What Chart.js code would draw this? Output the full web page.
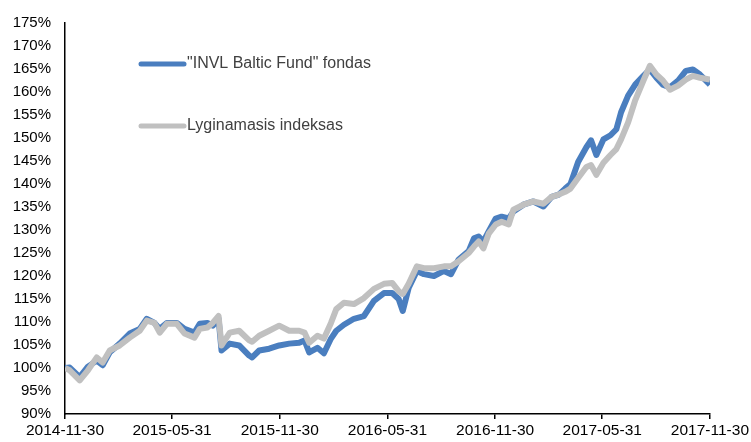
<!DOCTYPE html>
<html>
<head>
<meta charset="utf-8">
<script src="https://cdn.jsdelivr.net/npm/chart.js@4"></script>
<style>
  body { margin: 0; background: #fff; }
  canvas { display: block; }
</style>
</head>
<body>
<canvas id="fundChart" width="751" height="442"></canvas>
<script>
// Dienas nuo 2014-11-30
var days = [0, 8, 25, 39, 54, 64, 76, 93, 110, 127, 139, 152, 161, 173, 190, 203, 220, 229, 242, 251,
    261, 266, 280, 296, 313, 318, 330, 347, 364, 381, 398, 407, 415, 429, 440, 452, 461, 474, 491, 508,
    525, 542, 556, 567, 574, 584, 598, 610, 627, 644, 656, 669, 686, 695, 703, 711, 720, 732, 742, 754,
    762, 779, 796, 813, 827, 839, 850, 859, 872, 886, 894, 903, 915, 927, 937, 945, 957, 969, 983, 994,
    1005, 1016, 1028, 1042, 1055, 1067, 1079, 1096];

// "INVL Baltic Fund" fondas, %
var fundValues = [100.0, 100.1, 98.0, 100.3, 101.6, 100.6, 103.4, 105.3, 107.5, 108.5, 110.7, 109.8, 108.5, 109.8, 109.8, 108.5, 107.7, 109.6, 109.8, 109.2,
    110.7, 103.8, 105.3, 104.9, 102.7, 102.3, 103.8, 104.2, 104.9, 105.3, 105.5, 106.0, 103.4, 104.4, 103.2, 106.4, 108.1, 109.4, 110.7, 111.3,
    114.6, 116.3, 116.3, 115.0, 112.4, 117.4, 121.1, 120.4, 120.0, 121.1, 120.4, 123.6, 125.4, 128.2, 128.6, 127.5, 129.7, 132.5, 132.9, 132.5,
    134.0, 135.5, 136.2, 135.1, 137.2, 137.7, 139.0, 140.0, 144.8, 148.0, 149.5, 146.3, 149.7, 150.6, 151.9, 155.6, 159.2, 161.6, 163.5, 164.9,
    163.1, 161.6, 161.0, 162.5, 164.6, 164.9, 163.8, 161.6];

// Lyginamasis indeksas, %
var indexValues = [100.0, 99.5, 97.3, 99.5, 102.3, 101.2, 103.8, 104.9, 106.6, 108.1, 110.3, 109.8, 107.7, 109.6, 109.6, 107.5, 106.6, 108.5, 108.8, 109.8,
    111.3, 104.9, 107.7, 108.1, 106.0, 105.7, 107.0, 108.1, 109.2, 108.1, 108.1, 107.7, 105.5, 107.0, 106.4, 109.8, 112.8, 114.2, 113.9, 115.2,
    117.2, 118.3, 118.5, 116.7, 116.1, 118.3, 122.1, 121.7, 121.7, 122.1, 122.1, 123.2, 125.0, 126.4, 127.5, 126.0, 129.2, 131.2, 131.8, 131.2,
    134.4, 135.5, 136.2, 135.7, 137.2, 137.7, 138.3, 139.0, 141.3, 143.7, 144.1, 142.0, 144.6, 146.3, 147.6, 149.7, 153.4, 158.2, 162.5, 165.7,
    163.8, 162.5, 160.5, 161.4, 162.7, 163.5, 163.1, 162.7];

// X ašies žymos
var tickDays = [0, 182, 365, 548, 731, 913, 1096];
var tickLabels = ['2014-11-30', '2015-05-31', '2015-11-30', '2016-05-31', '2016-11-30', '2017-05-31', '2017-11-30'];

var seriesNames = ['"INVL Baltic Fund" fondas', 'Lyginamasis indeksas'];
var blue = '#4a7ebf';
var gray = '#c0c0c0';

function toPoints(values) {
    return days.map(function (d, i) { return { x: d, y: values[i] }; });
}

// Legenda grafiko viduje
var insideLegend = {
    id: 'insideLegend',
    afterDatasetsDraw: function (chart) {
        var ctx = chart.ctx;
        var rows = [[seriesNames[0], blue, 64], [seriesNames[1], gray, 126]];
        ctx.save();
        ctx.font = '16px "Liberation Sans", Arial, sans-serif';
        ctx.textBaseline = 'middle';
        ctx.lineCap = 'round';
        rows.forEach(function (r) {
            ctx.strokeStyle = r[1];
            ctx.lineWidth = 5;
            ctx.beginPath();
            ctx.moveTo(141, r[2]);
            ctx.lineTo(184, r[2]);
            ctx.stroke();
            ctx.fillStyle = '#404040';
            ctx.fillText(r[0], 187, r[2]);
        });
        ctx.restore();
    }
};

var ctx = document.getElementById('fundChart').getContext('2d');
var chart = new Chart(ctx, {
    type: 'line',
    data: {
        datasets: [{
            label: seriesNames[0],
            data: toPoints(fundValues),
            borderColor: blue,
            borderWidth: 6,
            borderJoinStyle: 'round',
            pointRadius: 0,
            order: 1
        }, {
            label: seriesNames[1],
            data: toPoints(indexValues),
            borderColor: gray,
            borderWidth: 6,
            borderJoinStyle: 'round',
            pointRadius: 0,
            order: 0
        }]
    },
    options: {
        responsive: false,
        animation: false,
        layout: { padding: { top: 20, right: 39, left: 0, bottom: 0 } },
        plugins: {
            legend: { display: false },
            tooltip: { enabled: false }
        },
        scales: {
            x: {
                type: 'linear',
                min: 0,
                max: 1096,
                afterBuildTicks: function (axis) {
                    axis.ticks = tickDays.map(function (d) { return { value: d }; });
                },
                afterFit: function (axis) { axis.height = 28; },
                ticks: {
                    autoSkip: false,
                    maxRotation: 0,
                    padding: 2,
                    color: '#000',
                    font: { family: '"Liberation Sans", Arial, sans-serif', size: 15.5 },
                    callback: function (v) {
                        var i = tickDays.indexOf(v);
                        return i >= 0 ? tickLabels[i] : '';
                    }
                },
                grid: { drawOnChartArea: false, drawTicks: true, tickLength: 5, color: '#000', lineWidth: 1.5 },
                border: { display: true, color: '#000', width: 1.5 }
            },
            y: {
                min: 90,
                max: 175,
                afterFit: function (axis) { axis.width = 65; },
                ticks: {
                    stepSize: 5,
                    padding: 14,
                    color: '#000',
                    font: { family: '"Liberation Sans", Arial, sans-serif', size: 15 },
                    callback: function (v) { return v + '%'; }
                },
                grid: { display: false, drawTicks: false },
                border: { display: true, color: '#000', width: 1.5 }
            }
        }
    },
    plugins: [insideLegend]
});
</script>
</body>
</html>
